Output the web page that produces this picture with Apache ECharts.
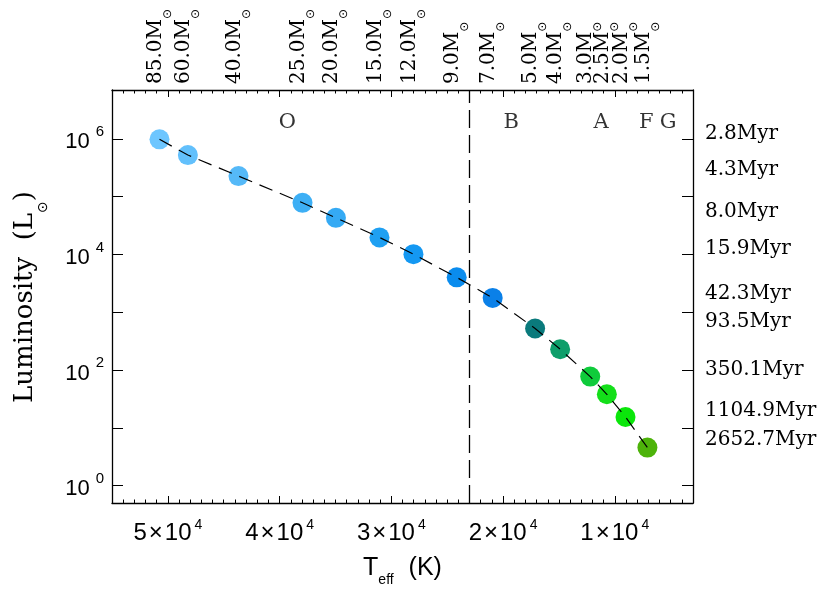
<!DOCTYPE html>
<html>
<head>
<meta charset="utf-8">
<script src="https://cdn.jsdelivr.net/npm/echarts@6/dist/echarts.min.js"></script>
<style>
  html, body { margin: 0; padding: 0; background: #fff; }
  #chart { width: 823px; height: 593px; }
</style>
</head>
<body>
<div id="chart"></div>
<script>
// Zero-age main sequence: stellar mass, effective temperature (K), luminosity (Lsun)
const masses = ['85.0', '60.0', '40.0', '25.0', '20.0', '15.0', '12.0', '9.0', '7.0', '5.0', '4.0', '3.0', '2.5', '2.0', '1.5'];
const teff = [50750, 48210, 43680, 37950, 34960, 31060, 28020, 24150, 20930, 17130, 14890, 12200, 10710, 9040, 7080];
const lum = [9.8e5, 5.24e5, 2.27e5, 7.82e4, 4.30e4, 1.97e4, 1.01e4, 4.01e3, 1.77e3, 523, 229, 77, 38, 15.4, 4.55];
const pointColors = ['#6dc6ff', '#62c0fc', '#55b9f8', '#3dafF5', '#35aaf4', '#1fa0f2', '#1498f2', '#0a8cee', '#0a80e8',
                     '#0a7a7c', '#0e9e6a', '#0fcb3b', '#14df1a', '#0be60b', '#4db30a'];

// Main-sequence lifetimes, written against the luminosity scale on the right
const ages = ['2.8', '4.3', '8.0', '15.9', '42.3', '93.5', '350.1', '1104.9', '2652.7'];
const ageLum = [1.245e6, 2.88e5, 5.47e4, 1.27e4, 2113, 681, 99, 19.6, 6.09];

// Spectral classes along the top of the panel, and the O/B boundary
const spectralClasses = ['O', 'B', 'A', 'F', 'G'];
const spectralTeff = [39300, 19270, 11220, 7190, 5220];
const spectralLum = 1.95e6;
const obBoundary = 23000;

// Axis ticks
const teffTicks = [50000, 40000, 30000, 20000, 10000];
const lumTicks = [1, 10, 100, 1e3, 1e4, 1e5, 1e6];
const lumLabels = [1, 100, 1e4, 1e6];

const serif = '"DejaVu Serif", serif';
const sans = '"Liberation Sans", Arial, sans-serif';
const symFont = '"DejaVu Sans", sans-serif';

function nearestIndex(arr, v) {
  let best = 0, bestD = Infinity;
  arr.forEach((a, i) => {
    const d = Math.abs(Math.log10(a) - Math.log10(v));
    if (d < bestD) { bestD = d; best = i; }
  });
  return best;
}

const frameLine = { show: true, onZero: false, lineStyle: { color: '#000', width: 1.3 } };
const tickStyle = { color: '#000', width: 1 };
const xBase = { type: 'value', min: 3000, max: 55000, inverse: true, gridIndex: 0, splitLine: { show: false } };
const yBase = { type: 'log', logBase: 10, min: 0.5, max: 7e6, gridIndex: 0, splitLine: { show: false }, minorTick: { show: false } };

const minorX = pos => Object.assign({}, xBase, {
  position: pos, interval: 1000,
  axisLine: { show: false, onZero: false },
  axisTick: { show: true, inside: true, length: 3.5, lineStyle: tickStyle },
  axisLabel: { show: false }
});

// Rich-text helpers: a glyph run whose box is exactly one font size tall, and a blank
// strut that sets the line height (and optionally some horizontal spacing).
const run = (family, size, valign) => ({ fontFamily: family, fontSize: size, lineHeight: size, color: '#000', verticalAlign: valign });
const strut = (w, h) => ({ width: w, fontSize: 1, lineHeight: h, verticalAlign: 'middle' });

const massRich = {
  m: run(serif, 20, 'top'),
  s: run(symFont, 12, 'bottom'),
  z: strut(1, 28)
};

const option = {
  animation: false,
  backgroundColor: '#fff',
  grid: { left: 112, right: 130, top: 90, bottom: 90, containLabel: false },
  xAxis: [
    Object.assign({}, xBase, {
      position: 'bottom',
      axisLine: frameLine,
      axisTick: { show: true, inside: true, length: 7, customValues: teffTicks, lineStyle: tickStyle },
      axisLabel: {
        show: true, customValues: teffTicks, margin: 15,
        formatter: v => {
          const e = Math.floor(Math.log10(v) + 1e-9);
          return '{b|' + Math.round(v / Math.pow(10, e)) + '}{g| }{b|×}{g| }{b|10}{h| }{e|' + e + '}';
        },
        rich: {
          b: run(sans, 24, 'bottom'),
          e: run(sans, 14, 'top'),
          g: strut(2, 1),
          h: strut(3, 27)
        }
      },
      name: '{t|T}{s|eff}{z| }{t|  (K)}',
      nameLocation: 'middle',
      nameGap: 53,
      nameTextStyle: {
        rich: {
          t: run(sans, 25, 'top'),
          s: run(sans, 14, 'bottom'),
          z: strut(1, 31)
        }
      }
    }),
    minorX('bottom'),
    Object.assign({}, xBase, {
      position: 'top',
      axisLine: frameLine,
      axisTick: { show: true, inside: true, length: 7, customValues: teffTicks, lineStyle: tickStyle },
      axisLabel: { show: false }
    }),
    minorX('top')
  ],
  yAxis: [
    Object.assign({}, yBase, {
      position: 'left',
      axisLine: frameLine,
      axisTick: { show: true, inside: true, length: 11, customValues: lumTicks, lineStyle: tickStyle },
      axisLabel: {
        show: true, customValues: lumLabels, margin: 8,
        showMinLabel: true, showMaxLabel: true,
        formatter: v => '{b|10}{g| }{e|' + Math.round(Math.log10(v)) + '}',
        rich: {
          b: run(sans, 22, 'bottom'),
          e: run(sans, 15, 'top'),
          g: strut(6, 29)
        }
      },
      name: '{b|Luminosity  (L}{s|⊙}{b|)}{z| }',
      nameLocation: 'middle',
      nameRotate: 90,
      nameGap: 62,
      nameTextStyle: {
        rich: {
          b: run(serif, 26, 'top'),
          s: run(symFont, 14, 'bottom'),
          z: strut(1, 38)
        }
      }
    }),
    Object.assign({}, yBase, {
      position: 'right',
      axisLine: frameLine,
      axisTick: { show: true, inside: true, length: 11, customValues: lumTicks, lineStyle: tickStyle },
      axisLabel: {
        show: true, customValues: ageLum, margin: 12,
        showMinLabel: true, showMaxLabel: true,
        formatter: v => ages[nearestIndex(ageLum, v)] + 'Myr',
        fontFamily: serif, fontSize: 20, color: '#000'
      }
    })
  ],
  series: [
    {
      name: 'ZAMS models',
      type: 'scatter',
      xAxisIndex: 0, yAxisIndex: 0,
      symbol: 'circle',
      symbolSize: 20,
      z: 2,
      silent: true,
      data: teff.map((t, i) => ({ value: [t, lum[i]], itemStyle: { color: pointColors[i], opacity: 1 } }))
    },
    {
      name: 'track',
      type: 'line',
      xAxisIndex: 0, yAxisIndex: 0,
      showSymbol: false,
      symbol: 'none',
      z: 3,
      silent: true,
      lineStyle: { color: '#000', width: 1.2, type: [14, 8] },
      data: teff.map((t, i) => [t, lum[i]]),
      markLine: {
        silent: true,
        symbol: 'none',
        label: { show: false },
        lineStyle: { color: '#000', width: 1.3, type: [18, 7] },
        data: [{ xAxis: obBoundary }]
      }
    },
    {
      name: 'spectral classes',
      type: 'scatter',
      xAxisIndex: 0, yAxisIndex: 0,
      symbolSize: 1,
      silent: true,
      itemStyle: { color: 'rgba(0,0,0,0)' },
      label: {
        show: true, position: 'inside',
        formatter: p => p.data.name,
        fontFamily: serif, fontSize: 21, color: '#000'
      },
      data: spectralClasses.map((c, i) => ({ name: c, value: [spectralTeff[i], spectralLum] }))
    }
  ]
};

const chart = echarts.init(document.getElementById('chart'), null, { renderer: 'canvas' });
chart.setOption(option);

// Stellar-mass labels above the top axis, one per model, placed through the x scale
const frameTop = chart.convertToPixel({ yAxisIndex: 0 }, yBase.max);
chart.setOption({
  graphic: masses.map((m, i) => ({
    type: 'text',
    x: chart.convertToPixel({ xAxisIndex: 0 }, teff[i]),
    y: frameTop - 6,
    rotation: Math.PI / 2,
    silent: true,
    style: { text: '{m|' + m + 'M}{s|⊙}{z| }', rich: massRich, align: 'left', verticalAlign: 'middle' }
  }))
});
</script>
</body>
</html>
